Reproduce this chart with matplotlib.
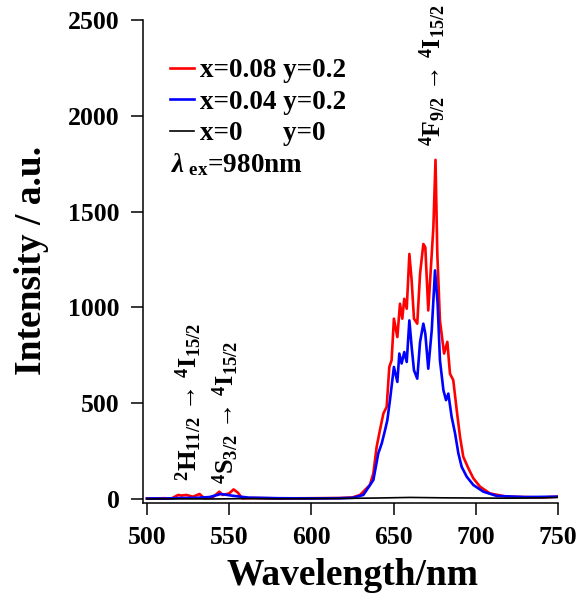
import matplotlib
matplotlib.use("Agg")

import matplotlib.pyplot as plt

plt.rcParams['font.family'] = ['Liberation Serif', 'DejaVu Serif']
plt.rcParams['font.weight'] = 'bold'
plt.rcParams['mathtext.fontset'] = 'custom'
plt.rcParams['mathtext.rm'] = 'Liberation Serif'
plt.rcParams['mathtext.bf'] = 'Liberation Serif:bold'
plt.rcParams['mathtext.it'] = 'Liberation Serif:italic'
plt.rcParams['mathtext.default'] = 'bf'

# x=0.08 y=0.2 (red)
red_wl = [500, 505, 510, 515, 519, 521, 524, 528, 532, 535, 540, 544, 546, 550, 552.7,
          555.3, 558, 565, 580, 600, 617, 625, 629.6, 635.6, 637.7, 639.7, 641.7, 643.8,
          645.8, 647.4, 648.8, 650.2, 652.3, 653.9, 655.3, 656.5, 658, 659.6, 661, 662.4,
          664.4, 666.1, 668.1, 669.3, 671.1, 674.2, 675.5, 676.6, 678.2, 680.7, 682.7,
          684.3, 686.3, 688.4, 690.4, 692.4, 695.5, 698.5, 702.6, 708.6, 718.8, 730, 740, 750]
red_int = [3, 2, 4, 3, 21, 18, 21, 12, 26, 3, 8, 38, 21, 29, 50,
           33, 3, 5, 3, 4, 5, 8, 21, 73, 134, 272, 359, 446,
           481, 689, 724, 941, 845, 1019, 941, 1045, 993, 1279, 1140, 941,
           915, 1175, 1331, 1314, 984, 1418, 1770, 1279, 932, 759, 820,
           654, 620, 464, 325, 220, 160, 108, 64, 29, 12, 10, 8, 12]

# x=0.04 y=0.2 (blue)
blue_wl = [500, 505, 510, 520, 530, 538, 545, 552, 562, 580, 600, 617, 625, 631.6, 637.7,
           640.7, 642.8, 644.8, 646.2, 647.8, 650.2, 652.3, 653.5, 654.9, 656.5, 658,
           659.6, 661, 662.4, 664.4, 666.1, 668.1, 669.3, 671.1, 673.2, 675.2, 676.8,
           678.2, 680.3, 681.9, 683.3, 685.3, 687.4, 689.4, 691.4, 694.5, 698.5, 704.6,
           712.7, 730, 750]
blue_int = [2, 3, 2, 5, 6, 10, 26, 17, 7, 4, 3, 4, 6, 21, 99,
            238, 290, 359, 411, 516, 689, 611, 759, 707, 767, 715,
            932, 793, 672, 628, 819, 915, 863, 680, 880, 1193, 1019,
            724, 568, 516, 550, 429, 342, 238, 168, 116, 73, 38,
            16, 10, 12]

# x=0 y=0 (black)
black_wl = [500, 520, 540, 560, 580, 600, 620, 640, 660, 680, 700, 720, 740, 750]
black_int = [0, 1, 0, 2, 1, 2, 3, 5, 8, 6, 5, 4, 6, 8]

fig = plt.figure(figsize=(5.87, 5.96), dpi=100)
ax = fig.add_axes([143 / 587, 93 / 596, 415 / 587, 483 / 596])

ax.plot(red_wl, red_int, color='#ff0000', lw=1.9, label='x=0.08 y=0.2')
ax.plot(blue_wl, blue_int, color='#0000ff', lw=1.9, label='x=0.04 y=0.2')
ax.plot(black_wl, black_int, color='black', lw=1.2, label='x=0      y=0')

ax.set_xlim(497.6, 750)
ax.set_ylim(-21, 2500)
ax.set_xticks([500, 550, 600, 650, 700, 750])
ax.set_yticks([0, 500, 1000, 1500, 2000, 2500])

for s in ['top', 'right']:
    ax.spines[s].set_visible(False)
for s in ['left', 'bottom']:
    ax.spines[s].set_linewidth(1.1)
ax.tick_params(direction='out', length=8.6, width=1.1, pad=8, labelsize=18.5)

ax.set_xlabel('Wavelength/nm', fontsize=27, fontweight='bold')
ax.xaxis.set_label_coords(0.506, -0.113)
ax.set_ylabel('Intensity / a.u.', fontsize=27, fontweight='bold')
ax.yaxis.set_label_coords(-0.226, 0.503)

leg = ax.legend(loc='upper left', bbox_to_anchor=(0.065, 0.921), frameon=False,
                fontsize=19.5, handlelength=0.9, handletextpad=0.2,
                labelspacing=0.24, borderpad=0, borderaxespad=0)

ax.text(0.068, 0.70, r'$\mathit{\lambda}_{\ \mathbf{ex}}$=980nm', transform=ax.transAxes,
        fontsize=19.5, ha='left', va='center')

ax.text(674, 2210, r'$^{4}$F$_{9/2}$ → $^{4}$I$_{15/2}$',
        rotation=90, ha='center', va='center', fontsize=18.5)
ax.text(525.5, 505, r'$^{2}$H$_{11/2}$ → $^{4}$I$_{15/2}$',
        rotation=90, ha='center', va='center', fontsize=19)
ax.text(548, 453, r'$^{4}$S$_{3/2}$ → $^{4}$I$_{15/2}$',
        rotation=90, ha='center', va='center', fontsize=19)

fig.savefig('out.png', dpi=100)
plt.close(fig)
